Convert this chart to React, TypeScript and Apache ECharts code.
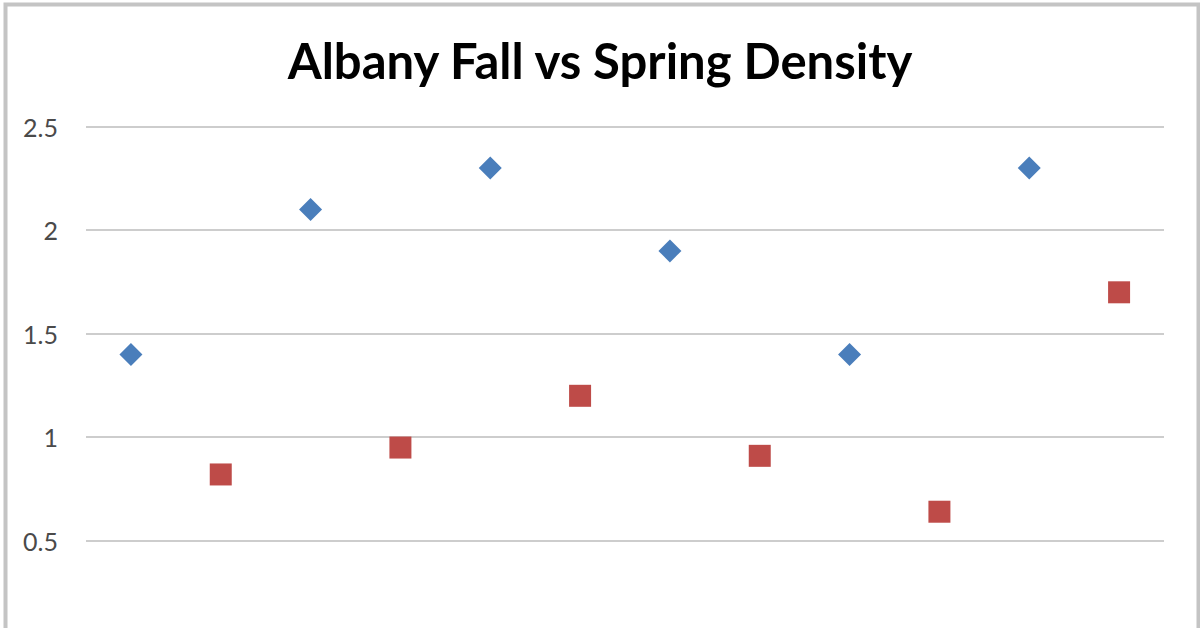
import React, { useEffect, useRef } from "react";
import * as echarts from "echarts";

const chartTitle = "Albany Fall vs Spring Density";
const fallX = [1, 3, 5, 7, 9, 11];
const fallDensity = [1.4, 2.1, 2.3, 1.9, 1.4, 2.3];
const springX = [2, 4, 6, 8, 10, 12];
const springDensity = [0.82, 0.95, 1.2, 0.91, 0.64, 1.7];
const yMin = 0;
const yMax = 2.5;
const yStep = 0.5;

export default function App() {
  const ref = useRef<HTMLDivElement>(null);
  useEffect(() => {
    if (!ref.current) return;
    const chart = echarts.init(ref.current, null, { renderer: "svg" });
    chart.setOption({
      animation: false,
      backgroundColor: "#ffffff",
      title: {
        text: chartTitle,
        left: "center",
        top: 30,
        textStyle: {
          fontFamily: "Lato",
          fontWeight: "bold",
          fontSize: 49,
          color: "#000000",
        },
      },
      grid: { left: 86, right: 36, top: 126.7, bottom: 700 - 644.2 },
      xAxis: {
        type: "value",
        min: 0.5,
        max: 12.5,
        show: false,
      },
      yAxis: {
        type: "value",
        min: yMin,
        max: yMax,
        interval: yStep,
        axisLine: { show: false },
        axisTick: { show: false },
        axisLabel: {
          margin: 28,
          fontFamily: "Lato",
          fontSize: 25,
          color: "#4a4a4a",
          formatter: (v: number) => (v === 0 ? "" : String(v)),
        },
        splitLine: { lineStyle: { color: "#cdcdcd", width: 2 } },
      },
      series: [
        {
          name: "Fall",
          type: "scatter",
          symbol: "diamond",
          symbolSize: 23,
          itemStyle: { color: "#4A7EBB", opacity: 1 },
          data: fallX.map((x, i) => [x, fallDensity[i]]),
        },
        {
          name: "Spring",
          type: "scatter",
          symbol: "rect",
          symbolSize: 22,
          itemStyle: { color: "#BE4B48", opacity: 1 },
          data: springX.map((x, i) => [x, springDensity[i]]),
        },
      ],
      graphic: [
        {
          type: "rect",
          left: 3,
          top: 2,
          shape: { width: 1193, height: 720 },
          style: { fill: "none", stroke: "#c4c4c4", lineWidth: 4 },
          silent: true,
        },
      ],
    });
    return () => chart.dispose();
  }, []);
  return (
    <div
      style={{
        position: "fixed",
        left: 0,
        top: 0,
        width: 1200,
        height: 628,
        overflow: "hidden",
        background: "#fff",
      }}
    >
      <div ref={ref} style={{ width: 1200, height: 700 }} />
    </div>
  );
}
